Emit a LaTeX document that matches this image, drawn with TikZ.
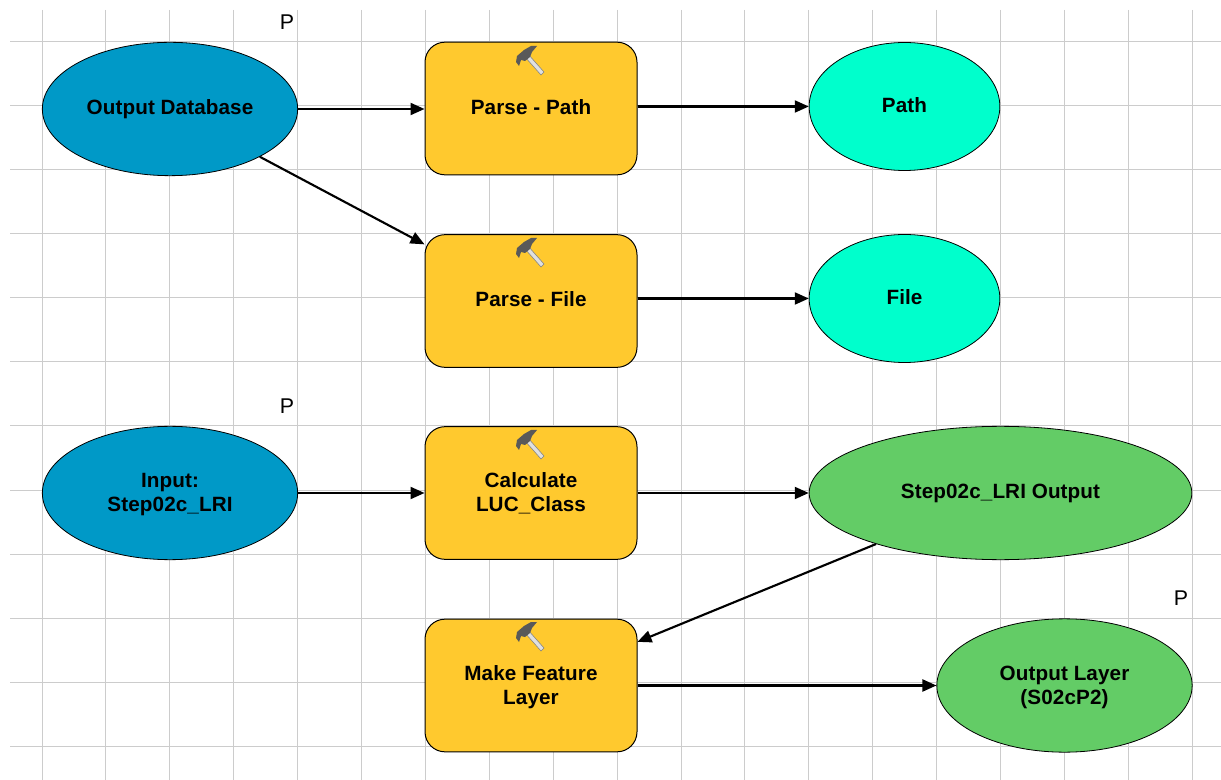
\documentclass[tikz,border=0pt]{standalone}
\usepackage{fontspec}
\setmainfont[LetterSpace=0.5]{Liberation Sans}
\usetikzlibrary{shapes.geometric}
\usetikzlibrary{arrows.meta}
\pgfdeclarelayer{edgelayer}
\pgfdeclarelayer{nodelayer}
\pgfsetlayers{main,edgelayer,nodelayer}
\definecolor{gridgray}{rgb}{0.80,0.80,0.80}
\definecolor{inputblue}{rgb}{0.00,0.60,0.78}
\definecolor{toolyellow}{rgb}{1.00,0.79,0.18}
\definecolor{valuecyan}{rgb}{0.00,1.00,0.80}
\definecolor{outgreen}{rgb}{0.39,0.80,0.40}
\tikzstyle{none}=[inner sep=0pt]
\tikzstyle{gridline}=[draw=gridgray, line width=0.75pt]
\tikzstyle{oneline}=[text height=11.5pt, text depth=3pt]
\tikzstyle{twoline}=[text height=31pt, text depth=3pt]
\tikzstyle{oval}=[style=none, ellipse, draw=black, line width=0.6pt, align=center, font=\fontsize{15.5}{18}\selectfont\bfseries, text=black]
\tikzstyle{tool}=[style=none, rectangle, rounded corners=15pt, draw=black, line width=0.75pt, fill=toolyellow, minimum width=159pt, minimum height=99.5pt, align=center, font=\fontsize{15.5}{18}\selectfont\bfseries, text=black]
\tikzstyle{flow}=[line width=1.6pt, -{Triangle[length=10.5pt, width=9pt]}]
\tikzstyle{param}=[style=none, font=\fontsize{16}{18}\selectfont]
\tikzset{
	pics/hammer/.style={code={
		\draw [draw=gray, fill=black!12, line width=0.4pt] (-5,-3) -- (-2,-6) -- (14,12) -- (11,15) -- cycle;
		\fill [black!65] (-14,2) -- (-13,-4) -- (-6,-10) -- (1,-14) -- (7,-14) -- (2,-8) -- (0,-3) -- (-5,1) -- (-9,0) -- (-11,6) -- cycle;
	}}
}

\begin{document}
\begin{tikzpicture}[x=0.75pt, y=-0.75pt]
	\useasboundingbox (0, 0) rectangle (1221, 780);
	\foreach \k in {0,...,18}
		\draw [style=gridline] ({42+63.9*\k}, 10) -- ({42+63.9*\k}, 780);
	\foreach \k in {0,...,11}
		\draw [style=gridline] (10, {42+64*\k}) -- (1221, {42+64*\k});
	\begin{pgfonlayer}{nodelayer}
		\node [style=oval, style=oneline, fill=inputblue, minimum width=191.5pt, minimum height=100pt] (0) at (170, 109) {Output Database};
		\node [style=oval, style=twoline, fill=inputblue, minimum width=191.5pt, minimum height=100pt] (1) at (170, 493) {Input:\\Step02c\_LRI};
		\node [style=tool, style=oneline] (2) at (531, 108.5) {Parse - Path};
		\node [style=tool, style=oneline] (3) at (531, 301) {Parse - File};
		\node [style=tool, style=twoline] (4) at (531, 493) {Calculate\\LUC\_Class};
		\node [style=tool, style=twoline] (5) at (531, 685.5) {Make Feature\\Layer};
		\node [style=oval, style=oneline, fill=valuecyan, minimum width=143pt, minimum height=96pt] (6) at (904.5, 106.5) {Path};
		\node [style=oval, style=oneline, fill=valuecyan, minimum width=143pt, minimum height=96pt] (7) at (904.5, 298.5) {File};
		\node [style=oval, style=oneline, fill=outgreen, minimum width=287pt, minimum height=100pt] (8) at (1000.5, 493) {Step02c\_LRI Output};
		\node [style=oval, style=twoline, fill=outgreen, minimum width=191.5pt, minimum height=100pt] (9) at (1064.5, 685.5) {Output Layer\\(S02cP2)};
		\node [style=param] (10) at (287, 22) {P};
		\node [style=param] (11) at (287, 406) {P};
		\node [style=param] (12) at (1181, 598) {P};
		\pic at (530, 60) {hammer};
		\pic at (530, 252) {hammer};
		\pic at (530, 444) {hammer};
		\pic at (530, 636) {hammer};
	\end{pgfonlayer}
	\begin{pgfonlayer}{edgelayer}
		\draw [style=flow] (0) to (0 -| 2.west);
		\draw [style=flow] (0) to (3);
		\draw [style=flow] (6 -| 2.east) to (6);
		\draw [style=flow] (7 -| 3.east) to (7);
		\draw [style=flow] (1) to (4);
		\draw [style=flow] (4) to (8);
		\draw [style=flow] (8) to (5);
		\draw [style=flow] (5) to (9);
	\end{pgfonlayer}
\end{tikzpicture}
\end{document}
